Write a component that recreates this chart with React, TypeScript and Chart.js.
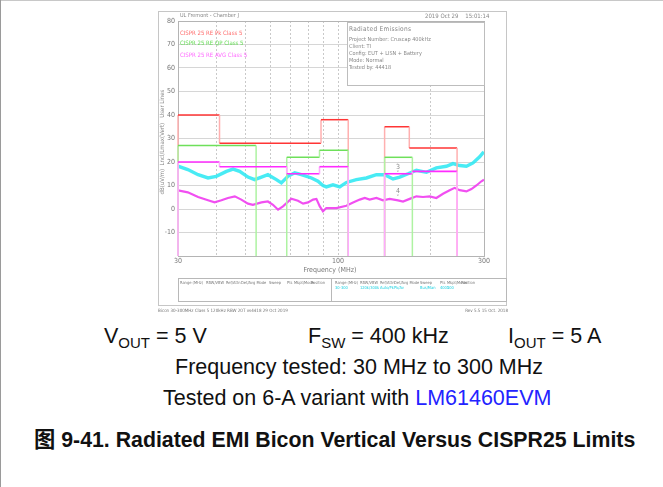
import React, { useEffect, useRef } from 'react';
import { Chart, registerables } from 'chart.js';

Chart.register(...registerables);

// ---------- data ----------
const xTickValues = [30, 40, 50, 60, 70, 80, 90, 100, 200, 300];
const xTickLabels = ['30', '', '', '', '', '', '', '100', '', '300'];
const yMin = -20;
const yMax = 80;

// CISPR 25 limit lines (band start / end in MHz, level in dBuV/m)
const pkBandStart = [30, 41, 88, 142, 171];
const pkBandEnd = [41, 88, 108, 171, 245];
const pkLevel = [40, 28, 38, 35, 26];

const qpBandStart = [30, 68, 87, 142];
const qpBandEnd = [54, 87, 108, 175];
const qpLevel = [27, 22, 25, 22];

const avBandStart = [30, 41, 68, 87, 142, 175];
const avBandEnd = [41, 68, 87, 108, 175, 245];
const avLevel = [20, 18, 15, 18, 15, 16];

// Measured peak trace (cyan)
const peakFreq = [30, 32.3, 34.9, 37.6, 40.0, 43.2, 45.4, 47.7, 50.8, 53.4, 56.2, 59.0, 62.9, 65.3, 68.6, 72.2, 75.9, 81.9, 86.0, 89.3, 91.6, 96.3, 101.3, 106.5, 114.8, 123.8, 133.5, 142.1, 151.3, 159.1, 169.4, 180.4, 194.5, 209.6, 226.1, 237.6, 249.9, 262.8, 276.2, 290.4, 297.8, 300];
const peakLevel = [18.2, 16.8, 14.6, 13.2, 13.9, 16.0, 17.0, 16.0, 13.6, 12.5, 13.6, 14.6, 12.5, 11.1, 13.9, 15.4, 14.6, 13.2, 11.8, 10.0, 9.4, 10.3, 9.4, 11.3, 12.5, 13.2, 14.6, 14.6, 12.8, 13.6, 15.0, 16.5, 15.6, 17.5, 18.2, 19.3, 18.5, 18.2, 19.6, 22.2, 23.9, 24.2];

// Measured average trace (magenta)
const avgFreq = [30, 32.3, 34.9, 37.6, 39.5, 41.6, 43.7, 46.0, 48.3, 50.8, 52.7, 56.2, 59.0, 61.3, 63.7, 66.1, 70.4, 74.0, 76.9, 79.8, 82.9, 85.0, 87.2, 89.3, 91.6, 98.8, 106.5, 112.0, 117.8, 122.3, 126.9, 133.5, 140.3, 147.5, 157.1, 163.1, 171.5, 180.4, 189.6, 199.4, 209.6, 220.4, 231.7, 240.6, 249.9, 262.8, 272.9, 283.3, 294.2, 300];
const avgLevel = [7.9, 7.1, 5.1, 3.7, 2.8, 3.7, 4.7, 5.4, 4.0, 2.3, 1.8, 2.8, 3.2, 1.8, -0.3, 1.1, 4.4, 3.5, 2.3, 2.8, 4.0, 4.3, 1.1, -1.0, 0.4, 0.4, 1.4, 2.8, 4.0, 4.7, 4.0, 4.7, 3.7, 4.3, 3.7, 3.2, 4.3, 5.4, 5.1, 5.4, 4.7, 6.5, 8.0, 9.0, 8.0, 7.5, 8.5, 10.0, 11.8, 12.5];

// Markers
const markerFreq = [157, 157];
const markerLevel = [13.6, 3.7];
const markerLabel = ['3', '4'];

// ---------- helpers ----------
const TINY = '"Liberation Sans Narrow", "DejaVu Sans Condensed", "Liberation Sans", sans-serif';
const ARIAL = '"Liberation Sans", Arial, Helvetica, sans-serif';

function buildLimit(starts: number[], ends: number[], levels: number[]) {
  const pts: { x: number; y: number | null }[] = [];
  for (let i = 0; i < starts.length; i++) {
    const contiguous = i > 0 && starts[i] === ends[i - 1];
    if (!contiguous) {
      if (i > 0) {
        pts.push({ x: ends[i - 1], y: yMin });
        pts.push({ x: ends[i - 1], y: null });
      }
      pts.push({ x: starts[i], y: yMin });
    }
    pts.push({ x: starts[i], y: levels[i] });
    pts.push({ x: ends[i], y: levels[i] });
  }
  pts.push({ x: ends[ends.length - 1], y: yMin });
  return pts;
}

const vert = (light: string) => (ctx: any) =>
  ctx.p0.parsed.x === ctx.p1.parsed.x ? light : undefined;

const framePlugin = {
  id: 'frame',
  beforeDatasetsDraw(chart: any) {
    const { ctx, chartArea: a } = chart;
    ctx.save();
    ctx.strokeStyle = '#b4b4b4';
    ctx.lineWidth = 1;
    ctx.strokeRect(Math.round(a.left) + 0.5, Math.round(a.top) + 0.5, Math.round(a.right - a.left), Math.round(a.bottom - a.top));
    ctx.restore();
  },
};

const markerPlugin = {
  id: 'markers',
  afterDatasetsDraw(chart: any) {
    const { ctx, scales } = chart;
    ctx.save();
    ctx.fillStyle = '#8a8a8a';
    ctx.font = '7px ' + TINY;
    ctx.textAlign = 'center';
    ctx.textBaseline = 'bottom';
    for (let i = 0; i < markerFreq.length; i++) {
      const x = scales.x.getPixelForValue(markerFreq[i]);
      const y = scales.y.getPixelForValue(markerLevel[i]);
      ctx.fillText(markerLabel[i], x, y - 6);
      ctx.fillText('\u02C7', x, y + 1);
    }
    ctx.restore();
  },
};

function Txt(p: { x: number; cy: number; size: number; color?: string; children: any; ls?: number; font?: string }) {
  return (
    <div
      style={{
        position: 'absolute',
        left: p.x,
        top: p.cy - p.size / 2,
        fontSize: p.size,
        lineHeight: 1,
        color: p.color || '#888',
        whiteSpace: 'pre',
        fontFamily: p.font || TINY,
        letterSpacing: p.ls || 0,
      }}
    >
      {p.children}
    </div>
  );
}

const tableHeads = ['Range (MHz)', 'RBW/VBW', 'Ref/Attn', 'Det/Avg Mode', 'Sweep', 'Pts', 'Mkpt/Mode', 'Position'];
const tableHeadXLeft = [180, 206, 226, 241, 269, 287, 294, 311];
const tableHeadXRight = [335, 360, 380, 394, 420, 440, 447, 461];
const tableRow = ['30-300', '120k/300k', 'Auto/Pk', 'Pk/Av', 'Bus/Man', '4001', '100', ''];

const bigText = (left: number, top: number, extra: any = {}) => ({
  position: 'absolute' as const,
  left,
  top,
  fontSize: 21.5,
  lineHeight: '21px',
  fontFamily: ARIAL,
  color: '#111',
  whiteSpace: 'pre' as const,
  ...extra,
});

export default function App() {
  const ref = useRef<HTMLCanvasElement>(null);

  useEffect(() => {
    const tickFont = { size: 7, family: TINY };
    const chart = new Chart(ref.current as HTMLCanvasElement, {
      type: 'line',
      data: {
        datasets: [
          {
            label: 'CISPR 25 RE AVG Class 5',
            data: buildLimit(avBandStart, avBandEnd, avLevel),
            borderColor: '#ff2bff',
            borderWidth: 1.6,
            segment: { borderColor: vert('#ffaaff') },
            order: 0,
            clip: false,
          } as any,
          {
            label: 'CISPR 25 RE QP Class 5',
            data: buildLimit(qpBandStart, qpBandEnd, qpLevel),
            borderColor: '#6ee05a',
            borderWidth: 1.5,
            segment: { borderColor: vert('#aef3a2') },
            order: 1,
            clip: false,
          },
          {
            label: 'CISPR 25 RE Pk Class 5',
            data: buildLimit(pkBandStart, pkBandEnd, pkLevel),
            borderColor: '#ff3535',
            borderWidth: 1.5,
            segment: { borderColor: vert('#ffb0b0') },
            order: 2,
            clip: false,
          },
          {
            label: 'Average',
            data: avgFreq.map((f, i) => ({ x: f, y: avgLevel[i] })),
            borderColor: 'rgba(240,60,240,0.9)',
            borderWidth: 2.2,
            order: 3,
          },
          {
            label: 'Peak',
            data: peakFreq.map((f, i) => ({ x: f, y: peakLevel[i] })),
            borderColor: 'rgba(40,232,242,0.85)',
            borderWidth: 3.4,
            order: 4,
          },
        ],
      },
      options: {
        animation: false,
        responsive: false,
        events: [],
        spanGaps: false,
        layout: { padding: { left: 0, right: 22, top: 10, bottom: 37 } },
        plugins: { legend: { display: false }, tooltip: { enabled: false } },
        elements: { point: { radius: 0 }, line: { tension: 0 } },
        scales: {
          x: {
            type: 'logarithmic',
            min: 30,
            max: 300,
            afterBuildTicks: (s: any) => {
              s.ticks = xTickValues.map((v) => ({ value: v }));
            },
            afterFit: (s: any) => {
              s.height = 12;
            },
            ticks: {
              autoSkip: false,
              maxRotation: 0,
              padding: 1,
              color: '#777',
              font: tickFont,
              callback: (_v: any, i: number) => xTickLabels[i],
            },
            grid: { color: '#c9c9c9', lineWidth: 1, drawTicks: false },
            border: { display: false, dash: [2, 2] },
          } as any,
          y: {
            type: 'linear',
            min: yMin,
            max: yMax,
            afterFit: (s: any) => {
              s.width = 20;
            },
            ticks: {
              stepSize: 10,
              padding: 3,
              color: '#777',
              font: tickFont,
              callback: (v: any) => (v === yMin ? '' : String(v)),
            },
            grid: { color: '#d6d6d6', lineWidth: 1, drawTicks: false },
            border: { display: false },
          },
        },
      },
      plugins: [framePlugin, markerPlugin],
    } as any);
    return () => chart.destroy();
  }, []);

  return (
    <div style={{ position: 'absolute', left: 0, top: 0, width: 663, height: 487, background: '#fff', overflow: 'hidden' }}>
      {/* outer page lines */}
      <div style={{ position: 'absolute', left: 0, top: 0, width: 663, height: 1, background: '#c8c8c8' }} />
      <div style={{ position: 'absolute', left: 0, top: 0, width: 1, height: 487, background: '#9a9a9a' }} />

      {/* screenshot frame */}
      <div style={{ position: 'absolute', left: 158, top: 11, width: 349, height: 295, border: '1px solid #c6c6c6', boxSizing: 'border-box' }} />

      <canvas ref={ref} width={348} height={294} style={{ position: 'absolute', left: 158, top: 11, width: 348, height: 294 }} />

      {/* header */}
      <Txt x={180} cy={15.5} size={5.5}>UL Fremont - Chamber J</Txt>
      <Txt x={425} cy={15.5} size={6}>{'2019 Oct 29    15:01:14'}</Txt>

      {/* legend */}
      <Txt x={180} cy={32.5} size={6} color="#ff6a6a">CISPR 25 RE Pk Class 5</Txt>
      <Txt x={180} cy={43} size={6} color="#62dc52">CISPR 25 RE QP Class 5</Txt>
      <Txt x={180} cy={55} size={6} color="#ff66ff">CISPR 25 RE AVG Class 5</Txt>

      {/* info box */}
      <div style={{ position: 'absolute', left: 347, top: 22, width: 138, height: 64, border: '1px solid #bdbdbd', boxSizing: 'border-box', background: '#fff' }} />
      <Txt x={349} cy={29} size={6.5} ls={0.3}>Radiated Emissions</Txt>
      <Txt x={349} cy={40} size={5.5}>Project Number: Cruscap 400kHz</Txt>
      <Txt x={349} cy={47} size={5.5}>Client: TI</Txt>
      <Txt x={349} cy={54} size={5.5}>Config: EUT + LISN + Battery</Txt>
      <Txt x={349} cy={61} size={5.5}>Mode: Normal</Txt>
      <Txt x={349} cy={68} size={5.5}>Tested by: 44418</Txt>

      {/* axis titles */}
      <div
        style={{
          position: 'absolute',
          left: 162 - 60,
          top: 142 - 3,
          width: 120,
          height: 6,
          fontSize: 6,
          lineHeight: 1,
          textAlign: 'center',
          color: '#888',
          fontFamily: TINY,
          whiteSpace: 'pre',
          transform: 'rotate(-90deg)',
        }}
      >
        {'dB(uV/m)  Lncl/Lmax(Vert)   User Lines'}
      </div>
      <div style={{ position: 'absolute', left: 280, top: 266.5, width: 100, textAlign: 'center', fontSize: 7, lineHeight: 1, color: '#777', fontFamily: TINY }}>
        Frequency (MHz)
      </div>

      {/* settings table */}
      <div style={{ position: 'absolute', left: 178, top: 278, width: 329, height: 24, border: '1px solid #b8b8b8', boxSizing: 'border-box' }} />
      <div style={{ position: 'absolute', left: 331, top: 278, width: 1, height: 24, background: '#b8b8b8' }} />
      {tableHeads.map((h, i) => (
        <Txt key={'l' + i} x={tableHeadXLeft[i]} cy={283} size={4} color="#777">{h}</Txt>
      ))}
      {tableHeads.map((h, i) => (
        <Txt key={'r' + i} x={tableHeadXRight[i]} cy={283} size={4} color="#777">{h}</Txt>
      ))}
      {tableRow.map((h, i) => (
        <Txt key={'d' + i} x={tableHeadXRight[i]} cy={288} size={4} color="#19d0e0">{h}</Txt>
      ))}

      {/* footer */}
      <Txt x={158} cy={311.5} size={4.5} color="#777">Bicon 30-300MHz Class 5 120kHz RBW 20T vs4418 29 Oct 2019</Txt>
      <div style={{ position: 'absolute', left: 408, top: 309.25, width: 100, textAlign: 'right', fontSize: 4.5, lineHeight: 1, color: '#777', fontFamily: TINY }}>
        Rev 5.5 15 Oct. 2018
      </div>

      {/* datasheet text */}
      <div style={bigText(104, 326)}>
        V<span style={{ fontSize: 15, position: 'relative', top: 5 }}>OUT</span> = 5 V
      </div>
      <div style={bigText(308, 326)}>
        F<span style={{ fontSize: 15, position: 'relative', top: 5 }}>SW</span> = 400 kHz
      </div>
      <div style={bigText(508, 326)}>
        I<span style={{ fontSize: 15, position: 'relative', top: 5 }}>OUT</span> = 5 A
      </div>
      <div style={bigText(175, 357)}>Frequency tested: 30 MHz to 300 MHz</div>
      <div style={bigText(163, 388)}>
        Tested on 6-A variant with <span style={{ color: '#2323ff' }}>LM61460EVM</span>
      </div>
      <div style={bigText(34, 430, { fontSize: 21.3, fontWeight: 'bold', fontFamily: ARIAL + ', "Noto Sans CJK SC"' })}>
        图 9-41. Radiated EMI Bicon Vertical Versus CISPR25 Limits
      </div>
    </div>
  );
}
